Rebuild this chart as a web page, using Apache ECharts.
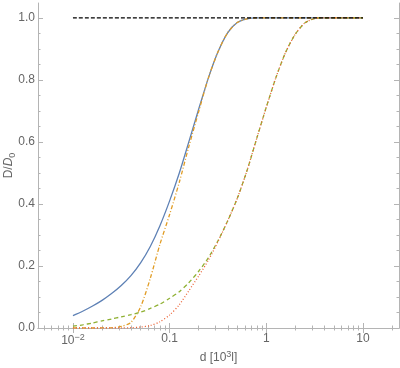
<!DOCTYPE html>
<html>
<head>
<meta charset="utf-8">
<script src="https://cdn.jsdelivr.net/npm/echarts@6/dist/echarts.min.js"></script>
<style>html,body{margin:0;padding:0;background:#fff}#c{width:400px;height:368px}</style>
</head>
<body>
<div id="c"></div>
<script>
// ---- data ----
const dGrid = [0.01, 0.0126, 0.0158, 0.02, 0.0251, 0.0316, 0.0398, 0.0501, 0.0631, 0.0794,
  0.1, 0.126, 0.158, 0.2, 0.251, 0.316, 0.398, 0.501, 0.631, 0.794,
  1, 1.26, 1.58, 2, 2.51, 3.16, 3.98, 5.01, 6.31, 7.94, 10];
const blueV = [0.040, 0.054, 0.070, 0.089, 0.111, 0.137, 0.169, 0.210, 0.263, 0.330,
  0.410, 0.500, 0.600, 0.706, 0.805, 0.890, 0.952, 0.985, 0.997, 1.0,
  1, 1, 1, 1, 1, 1, 1, 1, 1, 1, 1];
const orangeV = [0, 0, 0, 0.0005, 0.001, 0.005, 0.018, 0.068, 0.16, 0.27,
  0.366, 0.47, 0.585, 0.698, 0.805, 0.890, 0.952, 0.985, 0.997, 1.0,
  1, 1, 1, 1, 1, 1, 1, 1, 1, 1, 1];
const greenV = [0.006, 0.010, 0.016, 0.023, 0.029, 0.036, 0.043, 0.051, 0.063, 0.077,
  0.096, 0.117, 0.146, 0.183, 0.226, 0.281, 0.345, 0.418, 0.507, 0.61,
  0.712, 0.808, 0.888, 0.948, 0.984, 0.998, 1.0, 1, 1, 1, 1];
const redV = [0, 0, 0, 0, 0, 0, 0.001, 0.003, 0.008, 0.020,
  0.042, 0.075, 0.120, 0.168, 0.218, 0.278, 0.345, 0.418, 0.507, 0.61,
  0.712, 0.808, 0.888, 0.948, 0.984, 0.998, 1.0, 1, 1, 1, 1];
const refD = [0.01, 10];
const refV = [1, 1];

const xMajor = [0.01, 0.1, 1, 10];
const xLabels = ['10^-2', '0.1', '1', '10'];
const xMinor = [0.005, 0.006, 0.007, 0.008, 0.009,
  0.02, 0.03, 0.04, 0.05, 0.06, 0.07, 0.08, 0.09,
  0.2, 0.3, 0.4, 0.5, 0.6, 0.7, 0.8, 0.9,
  2, 3, 4, 5, 6, 7, 8, 9, 20];
const yMajor = [0, 0.2, 0.4, 0.6, 0.8, 1.0];
const yLabels = ['0.0', '0.2', '0.4', '0.6', '0.8', '1.0'];
const yMinor = [0.05, 0.1, 0.15, 0.25, 0.3, 0.35, 0.45, 0.5, 0.55,
  0.65, 0.7, 0.75, 0.85, 0.9, 0.95];
const xMin = 0.00435, xMax = 23.6, yMin = 0, yMax = 1.048;

// ---- chart ----
const FRAME = '#b4b4b4';
const LABEL = '#666666';
const FONT = 'Liberation Sans, Arial, sans-serif';
const FS = 12;

function pairs(xs, ys) { return xs.map((x, i) => [x, ys[i]]); }
function xLabelFor(v) {
  let best = 0;
  xMajor.forEach((m, i) => { if (Math.abs(Math.log10(v) - Math.log10(m)) < Math.abs(Math.log10(v) - Math.log10(xMajor[best]))) best = i; });
  const t = xLabels[best];
  if (t.indexOf('^') >= 0) { const p = t.split('^'); return '{a|' + p[0] + '}{s|' + p[1].replace('-', '\u2212') + '}'; }
  return '{a|' + t + '}';
}
function yLabelFor(v) {
  let best = 0;
  yMajor.forEach((m, i) => { if (Math.abs(v - m) < Math.abs(v - yMajor[best])) best = i; });
  return yLabels[best];
}

function xAx(pos, values, len, showLine, showLabel) {
  return {
    type: 'log', logBase: 10, position: pos, min: xMin, max: xMax,
    axisLine: { show: showLine, lineStyle: { color: FRAME, width: 1 } },
    axisTick: { show: true, inside: true, length: len, customValues: values, lineStyle: { color: FRAME, width: 1 } },
    axisLabel: showLabel ? {
      show: true, customValues: xMajor, margin: 5, color: LABEL, fontFamily: FONT, fontSize: FS,
      formatter: xLabelFor,
      rich: { a: { fontSize: FS, color: LABEL, fontFamily: FONT }, s: { fontSize: 9, color: LABEL, fontFamily: FONT, verticalAlign: 'bottom', padding: [0, 0, 7, 0] } }
    } : { show: false },
    splitLine: { show: false }, minorTick: { show: false }, minorSplitLine: { show: false }
  };
}
function yAx(pos, values, len, showLine, showLabel) {
  return {
    type: 'value', position: pos, min: yMin, max: yMax,
    axisLine: { show: showLine, lineStyle: { color: FRAME, width: 1 } },
    axisTick: { show: true, inside: true, length: len, customValues: values, lineStyle: { color: FRAME, width: 1 } },
    axisLabel: showLabel ? { show: true, customValues: yMajor, margin: 3, color: LABEL, fontFamily: FONT, fontSize: FS, formatter: yLabelFor } : { show: false },
    splitLine: { show: false }
  };
}

const xAxes = [xAx('bottom', xMajor, 5, true, true), xAx('bottom', xMinor, 2.5, false, false),
  xAx('top', xMajor, 5, true, false), xAx('top', xMinor, 2.5, false, false)];
xAxes[0].name = '{n|d [10}{s|3}{n|l]}';
xAxes[0].nameLocation = 'middle';
xAxes[0].nameGap = 22;
xAxes[0].nameMoveOverlap = false;
xAxes[0].nameTextStyle = { color: LABEL, fontFamily: FONT, fontSize: FS,
  rich: { n: { fontSize: FS, color: LABEL, fontFamily: FONT }, s: { fontSize: 9, color: LABEL, fontFamily: FONT, verticalAlign: 'bottom', padding: [0, 0, 7, 0] } } };

const yAxes = [yAx('left', yMajor, 5, true, true), yAx('left', yMinor, 2.5, false, false),
  yAx('right', yMajor, 5, true, false), yAx('right', yMinor, 2.5, false, false)];
yAxes[0].name = '{n|D/}{i|D}{b|0}';
yAxes[0].nameLocation = 'middle';
yAxes[0].nameGap = 21;
yAxes[0].nameRotate = 90;
yAxes[0].nameMoveOverlap = false;
yAxes[0].nameTextStyle = { color: LABEL, fontFamily: FONT, fontSize: FS,
  rich: { n: { fontSize: FS, color: LABEL, fontFamily: FONT }, i: { fontSize: FS, fontStyle: 'italic', color: LABEL, fontFamily: FONT },
    b: { fontSize: 9, color: LABEL, fontFamily: FONT, verticalAlign: 'top', padding: [7, 0, 0, 0] } } };

function line(xs, ys, color, type, width) {
  return {
    type: 'line', xAxisIndex: 0, yAxisIndex: 0, data: pairs(xs, ys),
    showSymbol: false, symbol: 'none', smooth: 0.25, animation: false,
    lineStyle: { color: color, width: width || 1.2, type: type }
  };
}

const chart = echarts.init(document.getElementById('c'), null, { renderer: 'canvas' });
chart.setOption({
  animation: false,
  backgroundColor: '#ffffff',
  grid: { left: 38, right: 1, top: 3, bottom: 40, containLabel: false, outerBoundsMode: 'none' },
  xAxis: xAxes,
  yAxis: yAxes,
  series: [
    line(dGrid, blueV, '#5e81b5', 'solid', 1.3),
    line(dGrid, orangeV, '#e19c24', [4, 2, 1, 2], 1.3),
    line(dGrid, greenV, '#8fb032', [4, 3], 1.3),
    line(dGrid, redV, '#eb6235', [1, 2], 1.3),
    line(refD, refV, '#000000', [4, 2], 1.2)
  ]
});
</script>
</body>
</html>
